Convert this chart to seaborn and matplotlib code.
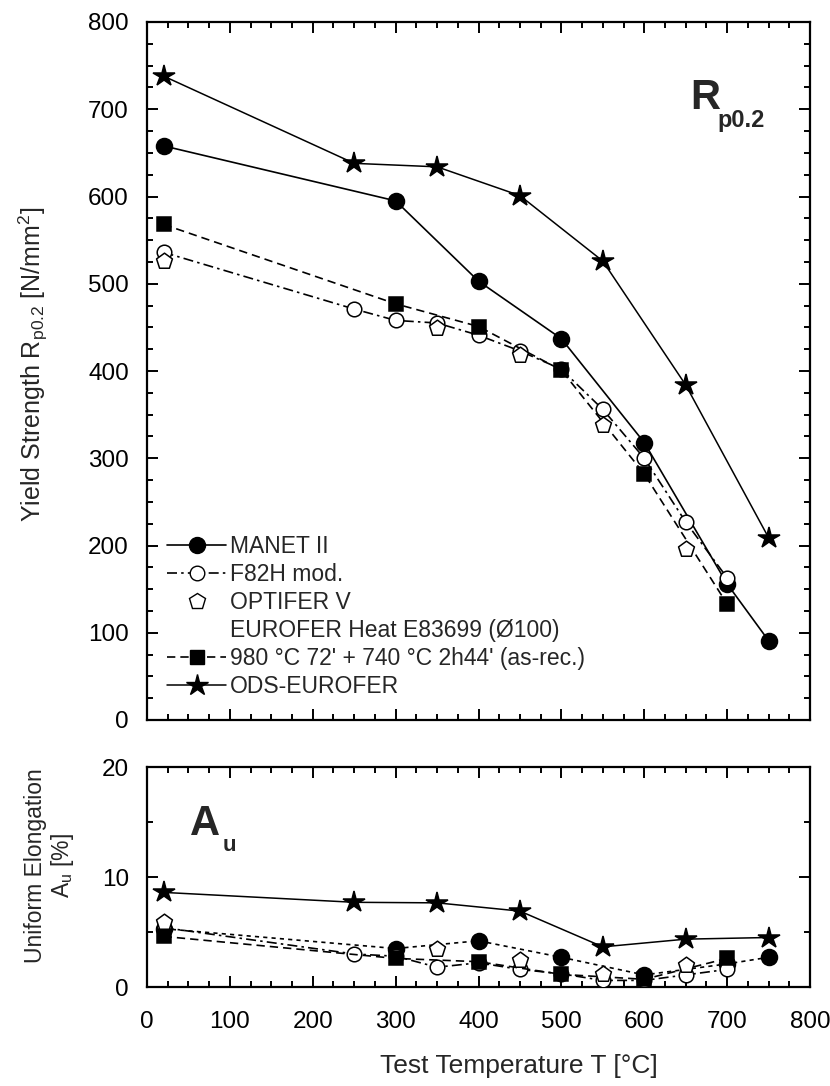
import numpy as np
import pandas as pd
import matplotlib
matplotlib.use("Agg")
import matplotlib.pyplot as plt
from matplotlib.lines import Line2D
from matplotlib.ticker import MultipleLocator
import seaborn as sns

# ---- Yield strength Rp0.2 [N/mm^2] ----
manet_T = [20, 300, 400, 500, 600, 700, 750]
manet_rp = [658, 595, 503, 437, 318, 156, 91]

f82h_T = [20, 250, 300, 350, 400, 450, 500, 550, 600, 650, 700]
f82h_rp = [536, 471, 458, 455, 441, 423, 402, 356, 300, 227, 163]

optifer_T = [20, 350, 450, 550, 650]
optifer_rp = [526, 449, 418, 338, 196]

eurofer_T = [20, 300, 400, 500, 600, 700]
eurofer_rp = [568, 477, 451, 401, 282, 133]

ods_T = [20, 250, 350, 450, 550, 650, 750]
ods_rp = [738, 638, 634, 601, 526, 384, 209]

# ---- Uniform elongation Au [%] ----
manet_au_T = [20, 300, 400, 500, 600, 700, 750]
manet_au = [5.3, 3.5, 4.2, 2.7, 1.1, 2.1, 2.7]

f82h_au_T = [20, 250, 300, 350, 400, 450, 500, 550, 600, 650, 700]
f82h_au = [5.4, 3.0, 2.8, 1.8, 2.2, 1.6, 1.2, 0.6, 0.6, 1.1, 1.6]

optifer_au_T = [20, 350, 450, 550, 650]
optifer_au = [5.9, 3.5, 2.45, 1.2, 2.0]

eurofer_au_T = [20, 300, 400, 500, 600, 700]
eurofer_au = [4.6, 2.6, 2.3, 1.15, 0.7, 2.6]

ods_au_T = [20, 250, 350, 450, 550, 650, 750]
ods_au = [8.6, 7.7, 7.65, 6.9, 3.65, 4.35, 4.5]

sns.set_style("ticks")
plt.rcParams["font.family"] = ["Liberation Sans", "DejaVu Sans"]
plt.rcParams["mathtext.fontset"] = "custom"
plt.rcParams["mathtext.rm"] = "Liberation Sans"
plt.rcParams["mathtext.it"] = "Liberation Sans:italic"
plt.rcParams["mathtext.bf"] = "Liberation Sans:bold"

W, H = 830, 1086
fig = plt.figure(figsize=(W / 100, H / 100), dpi=100)
ax1 = fig.add_axes([147 / W, (H - 720) / H, 663 / W, 698 / H])
ax2 = fig.add_axes([147 / W, (H - 987) / H, 663 / W, 220 / H])

LW = 1.2
MS_CIRC, MS_OPEN, MS_SQ, MS_STAR, MS_PENT = 11.5, 10.5, 9.5, 16, 12


def line(ax, T, v, marker, ms, ls, filled=True, lw=LW):
    df = pd.DataFrame({"T": T, "v": v})
    sns.lineplot(data=df, x="T", y="v", ax=ax, color="black", marker=marker,
                 markersize=ms, linestyle=ls, linewidth=lw,
                 markerfacecolor="black" if filled else "white",
                 markeredgecolor="black", markeredgewidth=1.1, zorder=3)


def points(ax, T, v, ms):
    df = pd.DataFrame({"T": T, "v": v})
    sns.scatterplot(data=df, x="T", y="v", ax=ax, marker="p", s=ms ** 2,
                    facecolor="white", edgecolor="black", linewidth=1.1,
                    zorder=4)


dashdot = (0, (6, 2.5, 1.5, 2.5))
dashed = (0, (5, 3))
dotted = (0, (2.5, 2.5))

# Yield strength panel
line(ax1, manet_T, manet_rp, "o", MS_CIRC, "-")
line(ax1, f82h_T, f82h_rp, "o", MS_OPEN, dashdot, filled=False)
points(ax1, optifer_T, optifer_rp, MS_PENT)
line(ax1, eurofer_T, eurofer_rp, "s", MS_SQ, dashed)
line(ax1, ods_T, ods_rp, "*", MS_STAR, "-", lw=1.1)

# Uniform elongation panel
line(ax2, manet_au_T, manet_au, "o", MS_CIRC, dotted)
line(ax2, f82h_au_T, f82h_au, "o", MS_OPEN, dashdot, filled=False)
line(ax2, eurofer_au_T, eurofer_au, "s", MS_SQ, dashed)
points(ax2, optifer_au_T, optifer_au, MS_PENT)
line(ax2, ods_au_T, ods_au, "*", MS_STAR, "-", lw=1.1)

for ax in (ax1, ax2):
    ax.set_xlim(0, 800)
    ax.xaxis.set_major_locator(MultipleLocator(100))
    ax.xaxis.set_minor_locator(MultipleLocator(25))
    ax.tick_params(which="both", direction="in", top=True, right=True,
                   labelsize=17.5, width=1.4, colors="black")
    ax.tick_params(which="major", length=8)
    ax.tick_params(which="minor", length=4)
    ax.tick_params(axis="y", which="major", pad=13)
    ax.tick_params(axis="x", which="major", pad=17)
    for s in ax.spines.values():
        s.set_linewidth(1.6)
        s.set_color("black")
        s.set_visible(True)
    ax.set_facecolor("white")

ax1.set_ylim(0, 800)
ax1.yaxis.set_major_locator(MultipleLocator(100))
ax1.yaxis.set_minor_locator(MultipleLocator(25))
ax1.set_xticklabels([])
ax1.set_xlabel("")
ax1.set_ylabel(r"Yield Strength R$_{\mathrm{p0.2}}$ [N/mm$^{2}$]", fontsize=18)
ax1.yaxis.set_label_coords(-0.146, 0.51)

ax2.set_ylim(0, 20)
ax2.yaxis.set_major_locator(MultipleLocator(10))
ax2.yaxis.set_minor_locator(MultipleLocator(5))
ax2.set_ylabel("Uniform Elongation\n" + r"A$_{\mathrm{u}}$ [%]", fontsize=16.5,
               linespacing=1.1)
ax2.yaxis.set_label_coords(-0.107, 0.55)
ax2.set_xlabel("Test Temperature T [°C]", fontsize=19)
ax2.xaxis.set_label_coords(0.561, -0.305)

# Panel titles
ax1.text(656, 700, "R", fontsize=30, fontweight="bold", ha="left",
         va="baseline")
ax1.text(688, 680, "p0.2", fontsize=17, fontweight="bold", ha="left",
         va="baseline")
ax2.text(52, 13.8, "A", fontsize=30, fontweight="bold", ha="left",
         va="baseline")
ax2.text(91, 12.4, "u", fontsize=16, fontweight="bold", ha="left",
         va="baseline")

handles = [
    Line2D([], [], color="black", lw=LW, ls="-", marker="o", ms=MS_CIRC),
    Line2D([], [], color="black", lw=LW, ls=dashdot, marker="o", ms=MS_OPEN,
           mfc="white"),
    Line2D([], [], color="black", lw=0, marker="p", ms=MS_PENT, mfc="white"),
    Line2D([], [], color="none", lw=0),
    Line2D([], [], color="black", lw=LW, ls=dashed, marker="s", ms=MS_SQ),
    Line2D([], [], color="black", lw=1.1, ls="-", marker="*", ms=MS_STAR),
]
labels = [
    "MANET II",
    "F82H mod.",
    "OPTIFER V",
    "EUROFER Heat E83699 (Ø100)",
    "980 °C 72' + 740 °C 2h44' (as-rec.)",
    "ODS-EUROFER",
]
ax1.legend(handles, labels, loc="lower left", bbox_to_anchor=(0.01, 0.012),
           frameon=False, fontsize=16.5, handlelength=2.55, handletextpad=0.17,
           labelspacing=0.22, borderaxespad=0.3, borderpad=0.3)

fig.savefig("out.png", dpi=100, facecolor="white")
